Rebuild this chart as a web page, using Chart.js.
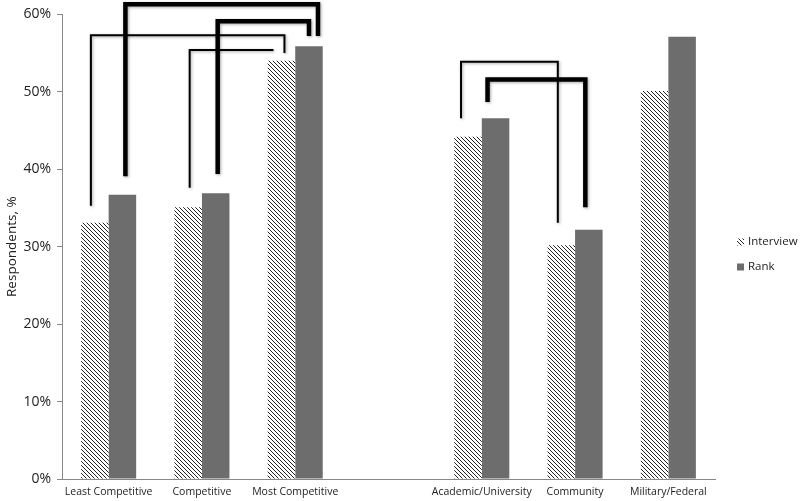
<!DOCTYPE html>
<html lang="en">
<head>
<meta charset="UTF-8">
<title>Respondents chart</title>
<script src="https://cdn.jsdelivr.net/npm/chart.js"></script>
<style>
  html, body { margin: 0; padding: 0; background: #fff; }
  #wrap { width: 800px; height: 501px; position: relative; }
</style>
</head>
<body>
<div id="wrap"><canvas id="chart"></canvas></div>
<script>
// data
const categories = ['Least Competitive', 'Competitive', 'Most Competitive', '', 'Academic/University', 'Community', 'Military/Federal'];
const interview = [33.1, 35.1, 54.0, null, 44.2, 30.2, 50.1];
const rank = [36.7, 36.9, 55.9, null, 46.6, 32.2, 57.1];
const yTicks = [0, 10, 20, 30, 40, 50, 60];

// comparison brackets: [category, dataset] at each end, heights in %
const brackets = [
    { from: [0, 0], to: [2, 0], legs: [35.3, 55.0], top: 57.3, dx: [-4, 3], w: 2 },
    { from: [0, 1], to: [2, 1], legs: [39.1, 57.2], top: 61.3, dx: [3, 9], w: 4.5 },
    { from: [1, 0], to: [2, 0], legs: [37.6, null], top: 55.4, dx: [1.5, -8], w: 2 },
    { from: [1, 1], to: [2, 1], legs: [39.4, 57.2], top: 59.1, dx: [2, 0], w: 4.5 },
    { from: [4, 0], to: [5, 0], legs: [46.6, 33.1], top: 53.9, dx: [-7, -3.5], w: 2 },
    { from: [4, 1], to: [5, 1], legs: [48.7, 35.1], top: 51.6, dx: [-8, -3.5], w: 4.5 }
];

function hatch() {
    const c = document.createElement('canvas');
    c.width = 4; c.height = 4;
    const g = c.getContext('2d');
    g.fillStyle = '#fff';
    g.fillRect(0, 0, 4, 4);
    g.strokeStyle = '#222';
    g.lineWidth = 1;
    g.beginPath();
    g.moveTo(-1, -1); g.lineTo(5, 5);
    g.moveTo(-1, 3); g.lineTo(1, 5);
    g.moveTo(3, -1); g.lineTo(5, 1);
    g.stroke();
    return g.createPattern(c, 'repeat');
}

const font = "'Open Sans', sans-serif";
const hatchFill = hatch();
const rankColor = '#6d6d6d';

const extras = {
    id: 'extras',
    afterDraw(chart) {
        const ctx = chart.ctx;
        const y = chart.scales.y;
        ctx.save();
        ctx.strokeStyle = '#000';
        ctx.lineCap = 'butt';
        ctx.lineJoin = 'miter';
        ctx.shadowColor = 'rgba(0,0,0,0.35)';
        ctx.shadowBlur = 3;
        ctx.shadowOffsetX = 1;
        ctx.shadowOffsetY = 1;
        brackets.forEach(b => {
            const x1 = chart.getDatasetMeta(b.from[1]).data[b.from[0]].x + b.dx[0];
            const x2 = chart.getDatasetMeta(b.to[1]).data[b.to[0]].x + b.dx[1];
            const yt = y.getPixelForValue(b.top);
            ctx.lineWidth = b.w;
            ctx.beginPath();
            ctx.moveTo(x1, y.getPixelForValue(b.legs[0]));
            ctx.lineTo(x1, yt);
            ctx.lineTo(x2, yt);
            if (b.legs[1] !== null) ctx.lineTo(x2, y.getPixelForValue(b.legs[1]));
            ctx.stroke();
        });
        ctx.restore();

        // legend
        ctx.save();
        ctx.font = "11.5px " + font;
        ctx.textBaseline = 'middle';
        const items = [[chart.data.datasets[0], 242], [chart.data.datasets[1], 267]];
        items.forEach(([ds, ly]) => {
            ctx.fillStyle = ds.backgroundColor;
            ctx.fillRect(737, ly - 3.5, 7, 7);
            ctx.fillStyle = '#222';
            ctx.fillText(ds.label, 748, ly);
        });
        ctx.restore();
    }
};

new Chart(document.getElementById('chart'), {
    type: 'bar',
    data: {
        labels: categories,
        datasets: [
            { label: 'Interview', data: interview, backgroundColor: hatchFill },
            { label: 'Rank', data: rank, backgroundColor: rankColor }
        ]
    },
    options: {
        responsive: true,
        maintainAspectRatio: false,
        animation: false,
        events: [],
        layout: { padding: { top: 13, right: 85, left: 4, bottom: 0 } },
        datasets: { bar: { categoryPercentage: 0.59, barPercentage: 1 } },
        plugins: { legend: { display: false }, tooltip: { enabled: false } },
        scales: {
            x: {
                grid: { display: false, drawTicks: false },
                border: { color: '#888', width: 1 },
                ticks: { color: '#222', font: { family: font, size: 10.5 }, padding: 7, maxRotation: 0, autoSkip: false },
                afterFit: s => { s.height = 22; }
            },
            y: {
                min: 0, max: 60,
                afterBuildTicks: s => { s.ticks = yTicks.map(v => ({ value: v })); },
                grid: { drawOnChartArea: false, drawTicks: true, tickLength: 5, color: '#888' },
                border: { color: '#888', width: 1 },
                ticks: { color: '#222', font: { family: font, size: 14 }, padding: 6, callback: v => v + '%' },
                title: { display: true, text: 'Respondents, %', color: '#222', font: { family: font, size: 13.5 }, padding: 0 },
                afterFit: s => { s.width = 58; }
            }
        }
    },
    plugins: [extras]
});
</script>
</body>
</html>
